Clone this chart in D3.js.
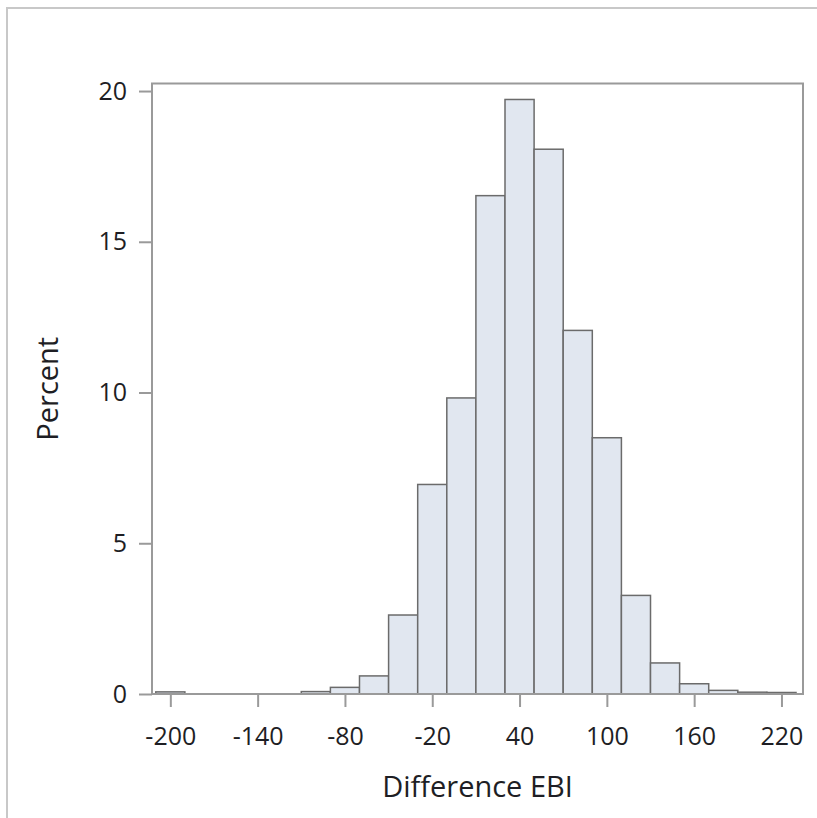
<!DOCTYPE html>
<html>
<head>
<meta charset="utf-8">
<script src="https://cdn.jsdelivr.net/npm/d3@7"></script>
<style>
  body { margin: 0; background: #fff; }
  text { font-family: "Open Sans", "Noto Sans", sans-serif; fill: #1e1e24; }
</style>
</head>
<body>
<div id="graf"></div>
<script>
// bin centres (width 20) and percent of each bin
var binCenters = [-200, -180, -160, -140, -120, -100, -80, -60, -40, -20, 0, 20, 40, 60, 80, 100, 120, 140, 160, 180, 200, 220]
var percents   = [0.07, 0, 0, 0, 0, 0.08, 0.22, 0.6, 2.62, 6.95, 9.82, 16.53, 19.72, 18.07, 12.06, 8.5, 3.27, 1.03, 0.34, 0.12, 0.06, 0.05]
var xTicks = [-200, -140, -80, -20, 40, 100, 160, 220]
var yTicks = [0, 5, 10, 15, 20]
var binWidth = 20

var ancho_total = 817, alto_total = 818
var margins = { top: 83.5, left: 152, right: 14, bottom: 124 }
var ancho = ancho_total - margins.left - margins.right
var alto  = alto_total - margins.top - margins.bottom

var svg = d3.select('#graf').append('svg')
  .attr('width', ancho_total)
  .attr('height', alto_total)

// marco exterior
svg.append('path')
  .attr('d', 'M7,818 V8 H817')
  .attr('fill', 'none')
  .attr('stroke', '#c8c8c8')
  .attr('stroke-width', 2)

var g = svg.append('g')
  .attr('transform', `translate(${margins.left}, ${margins.top})`)

var x = d3.scaleLinear().domain([-212.6, 234.8]).range([0, ancho])
var y = d3.scaleLinear().domain([0, 20.25]).range([alto, 0])

// barras
g.selectAll('rect.bar')
  .data(binCenters.map((c, i) => ({ c: c, v: percents[i] })))
  .join('rect')
  .attr('class', 'bar')
  .attr('x', d => x(d.c - binWidth / 2))
  .attr('width', d => x(d.c + binWidth / 2) - x(d.c - binWidth / 2))
  .attr('y', d => y(d.v))
  .attr('height', d => alto - y(d.v))
  .attr('fill', '#e1e7f0')
  .attr('stroke', '#6b6b6b')
  .attr('stroke-width', 1.5)

// borde del área
g.append('rect')
  .attr('width', ancho)
  .attr('height', alto)
  .attr('fill', 'none')
  .attr('stroke', '#9a9a9a')
  .attr('stroke-width', 2)

// Ejes
var xAxis = g.append('g')
  .attr('transform', `translate(0, ${alto})`)
  .call(d3.axisBottom(x).tickValues(xTicks).tickFormat(d => String(d)).tickSize(13).tickPadding(20))
var yAxis = g.append('g')
  .call(d3.axisLeft(y).tickValues(yTicks).tickFormat(d => String(d)).tickSize(13).tickPadding(12))

;[xAxis, yAxis].forEach(a => {
  a.select('.domain').remove()
  a.selectAll('line').attr('stroke', '#9a9a9a').attr('stroke-width', 2)
  a.selectAll('text').style('font-size', '25px').attr('fill', '#1e1e24')
})

svg.append('text')
  .attr('x', margins.left + ancho / 2)
  .attr('y', 797)
  .attr('text-anchor', 'middle')
  .style('font-size', '29px')
  .text('Difference EBI')

svg.append('text')
  .attr('transform', `translate(58, ${margins.top + alto / 2}) rotate(-90)`)
  .attr('text-anchor', 'middle')
  .style('font-size', '29px')
  .text('Percent')
</script>
</body>
</html>
